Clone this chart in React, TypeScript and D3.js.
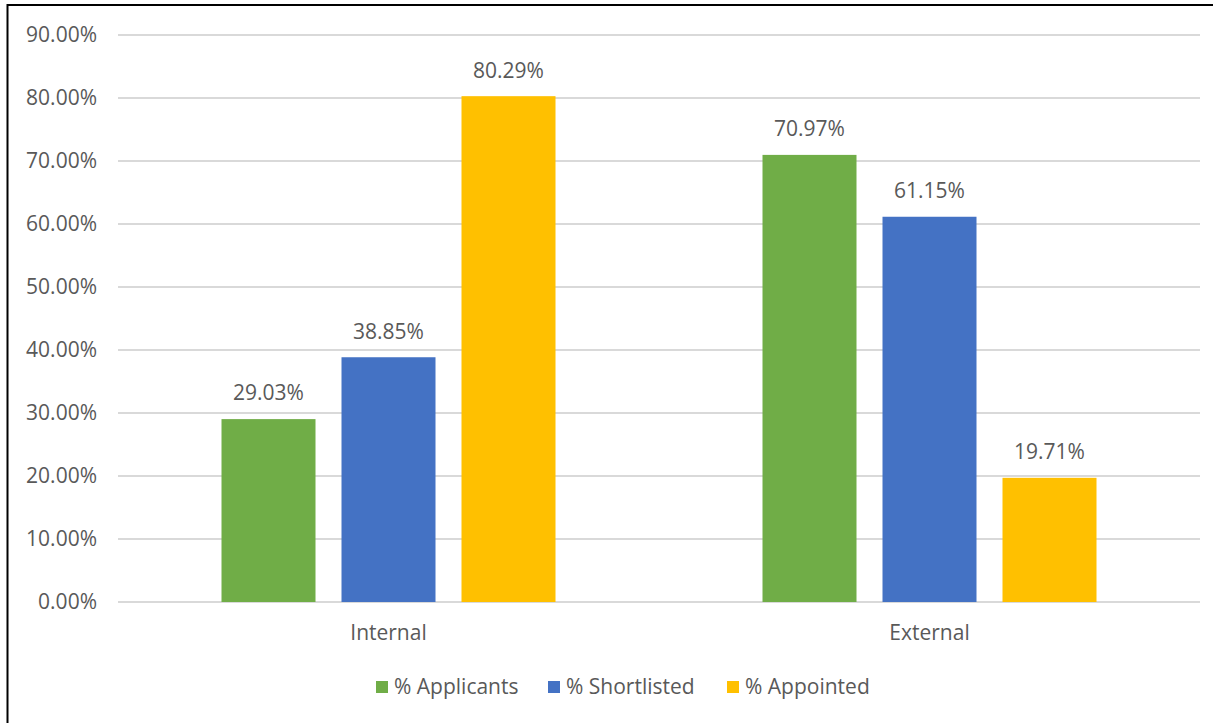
import React from "react";
import * as d3 from "d3";

const categories = ["Internal", "External"];
const seriesNames = ["% Applicants", "% Shortlisted", "% Appointed"];
const seriesColors = ["#70AD47", "#4472C4", "#FFC000"];
const applicants = [29.03, 70.97];
const shortlisted = [38.85, 61.15];
const appointed = [80.29, 19.71];
const yTicks = [0, 10, 20, 30, 40, 50, 60, 70, 80, 90];

const W = 1213;
const H = 723;
const FONT = "'Open Sans', sans-serif";
const TEXT = "#595959";
const FS = 21;

export default function App() {
  const seriesValues = [applicants, shortlisted, appointed];
  const left = 118;
  const right = 1200;
  const top = 35;
  const bottom = 602;

  const y = d3.scaleLinear().domain([0, 90]).range([bottom, top]);
  const x0 = d3.scaleBand<string>().domain(categories).range([left, right]).padding(0);
  const groupW = 334;
  const off = (x0.bandwidth() - groupW) / 2;
  const x1 = d3
    .scaleBand<string>()
    .domain(seriesNames)
    .range([off, off + groupW])
    .paddingInner(26 / 120)
    .paddingOuter(0);

  const fmt = (v: number) => v.toFixed(2) + "%";

  const legendItems = [
    { name: seriesNames[0], sq: 376, tx: 394 },
    { name: seriesNames[1], sq: 548, tx: 566 },
    { name: seriesNames[2], sq: 727, tx: 745 },
  ];

  return (
    <svg
      width={W}
      height={H}
      style={{ position: "fixed", left: 0, top: 0, background: "#fff" }}
      fontFamily={FONT}
    >
      <rect x={0} y={0} width={W} height={H} fill="#fff" />
      <line x1={7.5} y1={5} x2={W} y2={5} stroke="#000" strokeWidth={2} />
      <line x1={7.5} y1={4} x2={7.5} y2={H} stroke="#000" strokeWidth={2} />

      {yTicks.map((t) => (
        <g key={t}>
          <line x1={left} x2={right} y1={y(t)} y2={y(t)} stroke="#D9D9D9" strokeWidth={1.8} />
          <text
            x={97}
            y={y(t)}
            dy="0.35em"
            textAnchor="end"
            fontSize={FS}
            fill={TEXT}
          >
            {t.toFixed(2) + "%"}
          </text>
        </g>
      ))}

      {categories.map((c, ci) => (
        <g key={c} transform={`translate(${x0(c)},0)`}>
          {seriesNames.map((s, si) => {
            const v = seriesValues[si][ci];
            const bx = x1(s)!;
            return (
              <g key={s}>
                <rect
                  x={bx}
                  y={y(v)}
                  width={x1.bandwidth()}
                  height={y(0) - y(v)}
                  fill={seriesColors[si]}
                />
                <text
                  x={bx + x1.bandwidth() / 2}
                  y={y(v) - 26}
                  dy="0.35em"
                  textAnchor="middle"
                  fontSize={FS}
                  fill={TEXT}
                >
                  {fmt(v)}
                </text>
              </g>
            );
          })}
          <text
            x={x0.bandwidth() / 2}
            y={633}
            dy="0.35em"
            textAnchor="middle"
            fontSize={FS}
            fill={TEXT}
          >
            {c}
          </text>
        </g>
      ))}

      {legendItems.map((l, i) => (
        <g key={l.name}>
          <rect x={l.sq} y={681} width={12} height={12} fill={seriesColors[i]} />
          <text x={l.tx} y={686.5} dy="0.35em" fontSize={FS} fill={TEXT}>
            {l.name}
          </text>
        </g>
      ))}
    </svg>
  );
}
